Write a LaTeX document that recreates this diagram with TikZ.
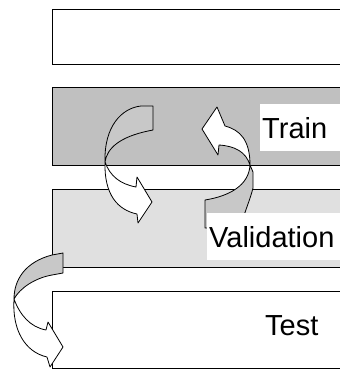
\documentclass[tikz,border=0pt]{standalone}
\usepackage{fontspec}
\setmainfont{Liberation Sans}
\definecolor{traingray}{HTML}{C0C0C0}
\definecolor{valgray}{HTML}{E0E0E0}
\definecolor{backgray}{HTML}{C8C8C8}
\begin{document}
\begin{tikzpicture}[x=1pt,y=-1pt,
  band/.style={draw=black,line width=0.9pt,anchor=north west,inner sep=0pt,minimum width=300pt},
  lbl/.style={fill=white,inner xsep=2pt,inner ysep=0pt,anchor=north west,text width=90pt,align=left,font=\fontsize{29}{32}\selectfont},
  txt/.style={inner sep=0pt,anchor=west,font=\fontsize{29}{32}\selectfont},
  arrback/.style={draw=black,line width=0.8pt,fill=backgray,line join=round},
  arrfront/.style={draw=black,line width=0.8pt,fill=white,line join=round}]
\useasboundingbox (0,0) rectangle (340,370);
\clip (0,0) rectangle (340,370);
% bands
\node[band,fill=white,minimum height=55pt] (top) at (52,9) {};
\node[band,fill=traingray,minimum height=78pt] (train) at (52,87) {};
\node[band,fill=valgray,minimum height=78pt] (val) at (52,189) {};
\node[band,fill=white,minimum height=77pt] (test) at (52,291) {};
% arrow 1 (train -> validation)
\path[arrback] (153,106) -- (153,130) -- (148,131)
  .. controls (120,137) and (107,148) .. (105,162)
  .. controls (104,126) and (122,108) .. (141,106) -- cycle;
\path[arrfront] (105,162) .. controls (104,195) and (118,210) .. (137,214)
  -- (138,223) -- (152,202) -- (137,177) -- (136,187)
  .. controls (120,184) and (110,176) .. (105,162) -- cycle;
% arrow 2 (validation -> train)
\path[arrback] (205,200) .. controls (230,196) and (249,185) .. (250,165)
  -- (253,172) -- (253,188) .. controls (250,200) and (246,208) .. (240,228)
  -- (205,228) -- cycle;
\path[arrfront] (250,165) .. controls (250,140) and (240,130) .. (225,126)
  -- (217,107) -- (202,129) -- (218,155) -- (219,145)
  .. controls (235,146) and (246,152) .. (250,165) -- cycle;
% arrow 3 (validation -> test)
\path[arrback] (63,253) -- (63,273) -- (52,275)
  .. controls (35,278) and (20,288) .. (14,299)
  .. controls (14,280) and (25,262) .. (52,255) -- cycle;
\path[arrfront] (14,299) .. controls (12,330) and (25,352) .. (47,357)
  -- (50,367) -- (63,347) -- (48,322) -- (46,330)
  .. controls (30,327) and (20,315) .. (14,299) -- cycle;
% labels
\node[lbl,minimum height=47pt] (trainlbl) at (260,104) {Train};
\node[lbl,minimum height=47pt,text width=135pt] (vallbl) at (207,213) {Validation};
\node[txt] (testlbl) at (265,325.5) {Test};
\end{tikzpicture}
\end{document}
